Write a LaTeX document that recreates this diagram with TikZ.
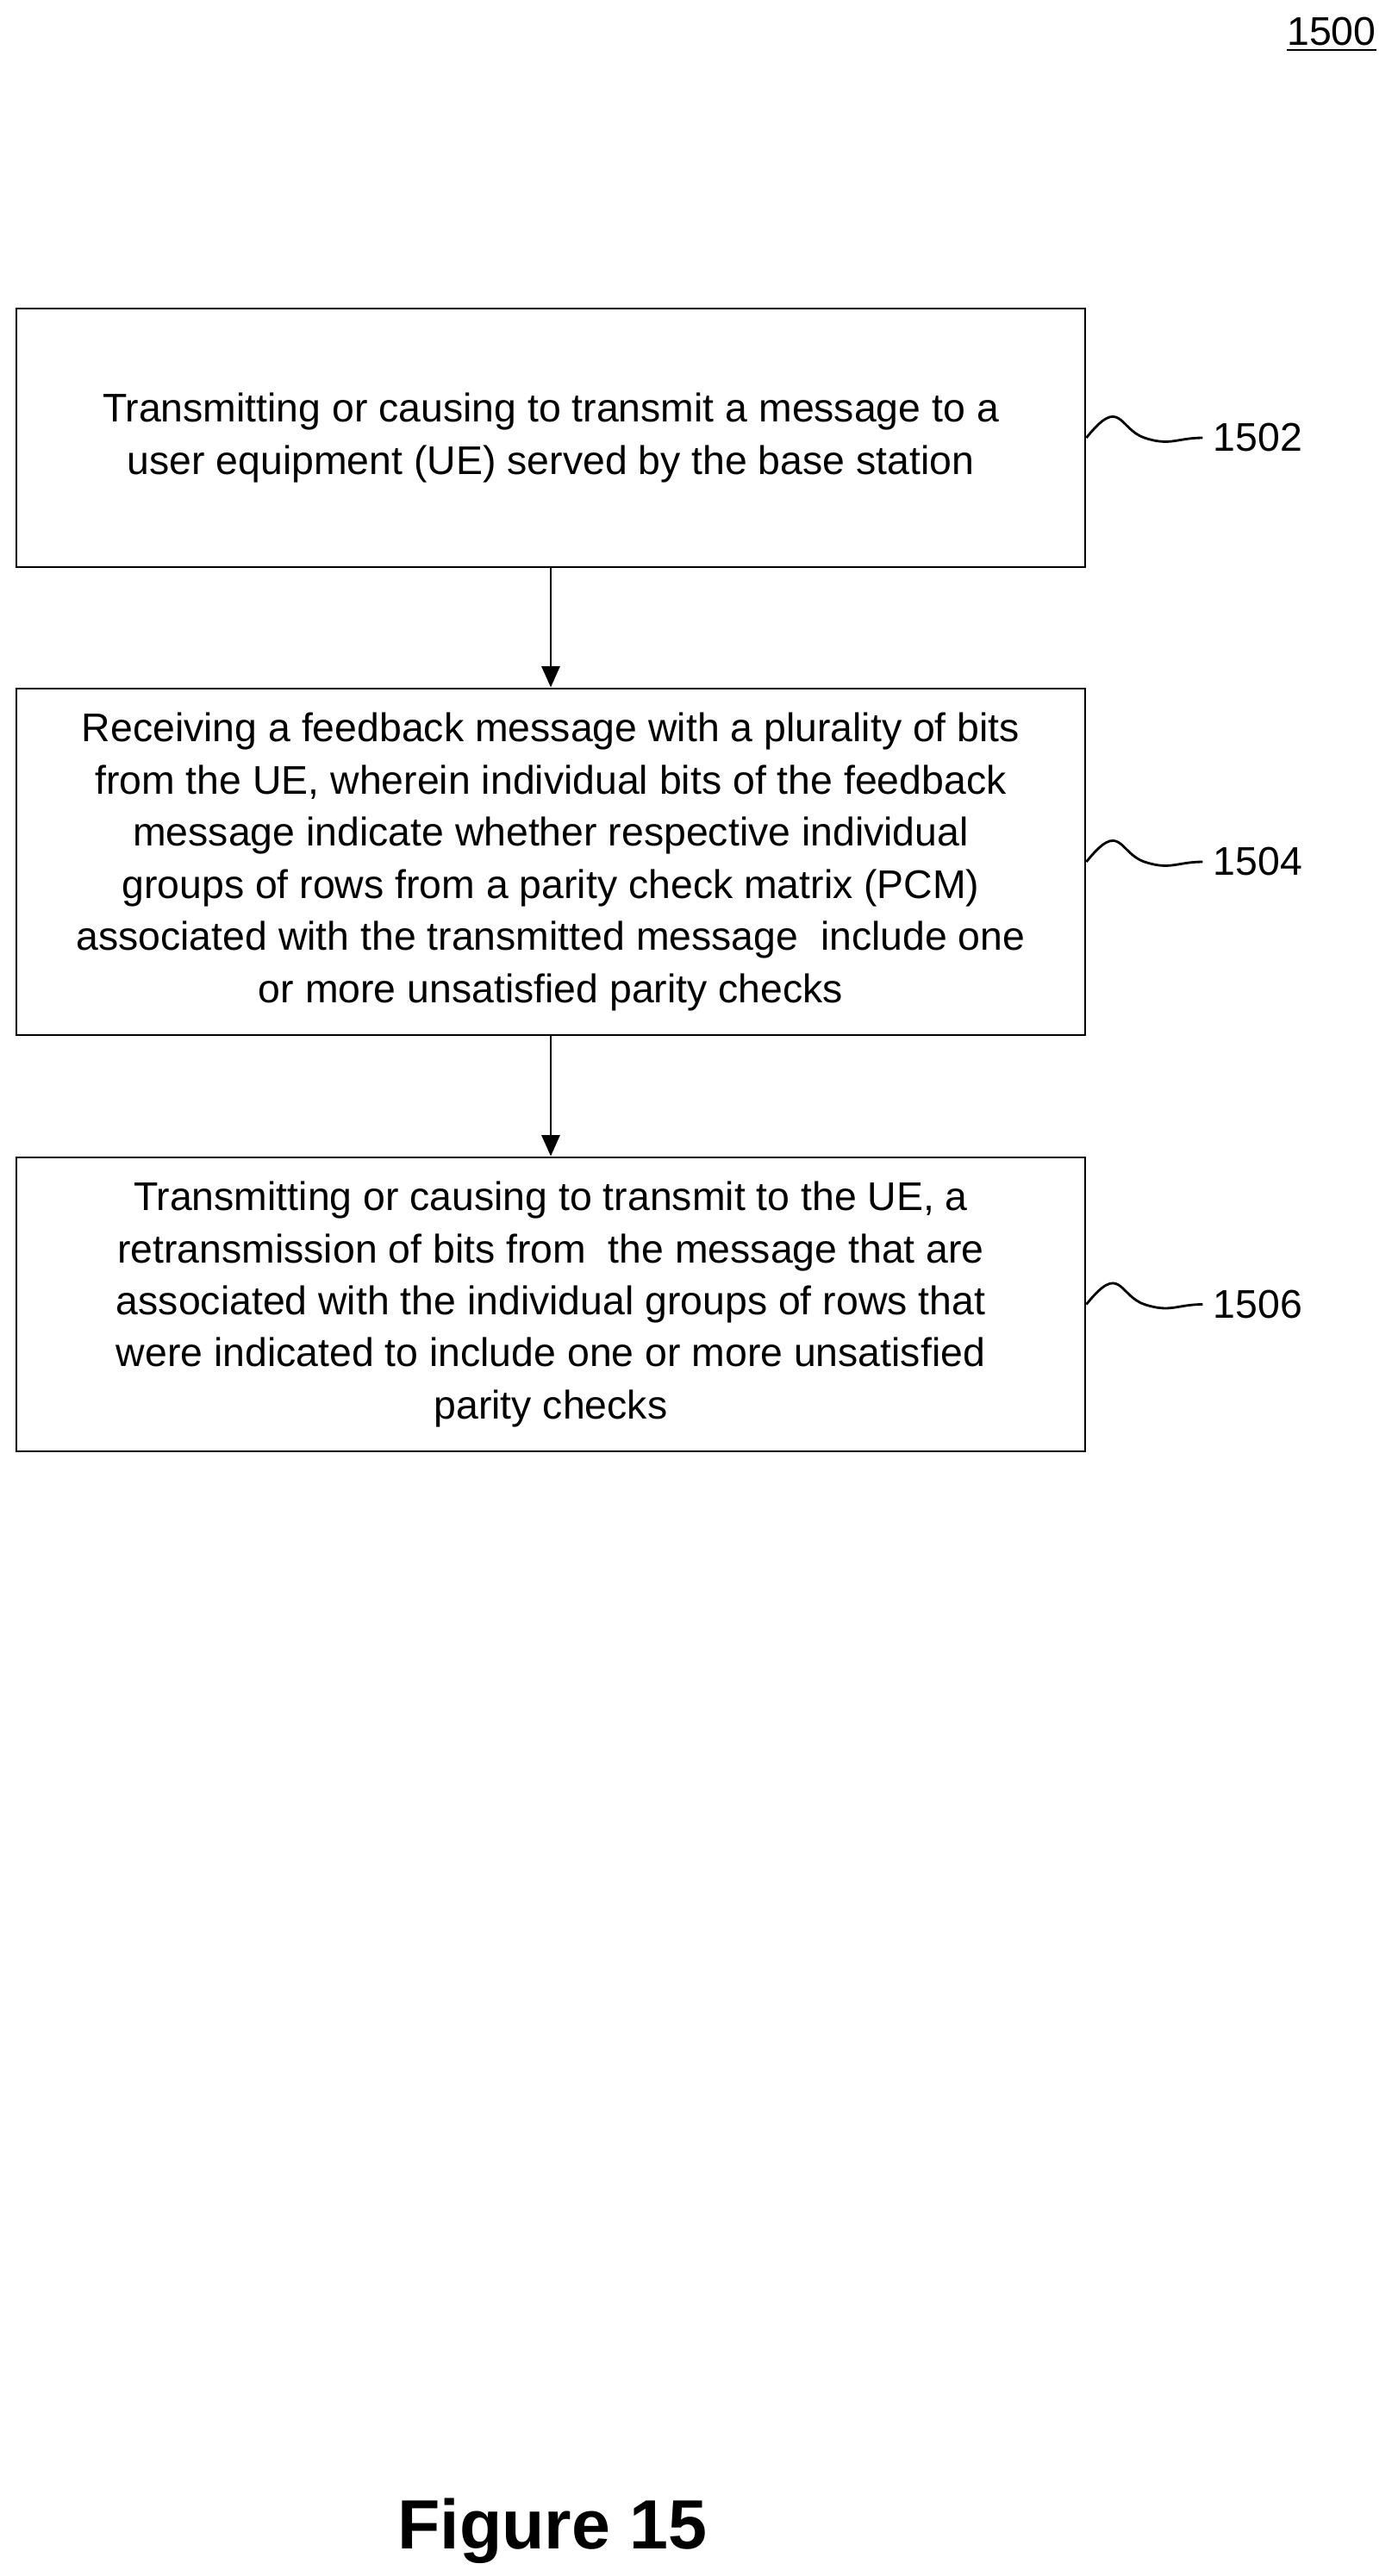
\documentclass[tikz,border=0pt]{standalone}
\usepackage{fontspec}
\setmainfont{Liberation Sans}
\usetikzlibrary{positioning}
\usetikzlibrary{calc}
\usetikzlibrary{arrows.meta}
\tikzset{
  stepbox/.style={draw,thick,minimum width=12.4cm,align=center,inner sep=0pt,font=\fontsize{13.2}{17.2}\selectfont},
  flow/.style={thick,-{Triangle[length=7pt,width=6pt]}},
  ref/.style={font=\fontsize{13.2}{17}\selectfont,anchor=west}
}
\begin{document}
\begin{tikzpicture}
            \useasboundingbox (0,0) rectangle (16.21,-29.89);
            \node[font=\fontsize{13.2}{17}\selectfont] (fig) at (15.45,-0.4) {\underline{1500}};

            \node[stepbox,minimum height=3.0cm] (s1502) at (6.39,-5.08) {Transmitting or causing to transmit a message to a\\ user equipment (UE) served by the base station};
            \node[stepbox,minimum height=4.02cm] (s1504) at (6.39,-10.0) {Receiving a feedback message with a plurality of bits\\ from the UE, wherein individual bits of the feedback\\ message indicate whether respective individual\\ groups of rows from a parity check matrix (PCM)\\ associated with the transmitted message\ \ include one\\ or more unsatisfied parity checks};
            \node[stepbox,minimum height=3.41cm] (s1506) at (6.39,-15.135) {Transmitting or causing to transmit to the UE, a\\ retransmission of bits from\ \ the message that are\\ associated with the individual groups of rows that\\ were indicated to include one or more unsatisfied\\ parity checks};

            \draw[flow] (s1502) -- (s1504);
            \draw[flow] (s1504) -- (s1506);

            % reference numerals
            \foreach \s in {1502,1504,1506} {
              \node[ref] (l\s) at ($(s\s.east)+(1.35,0)$) {\s};
              \draw[thick] (s\s.east) .. controls +(0.4,0.5) and +(-0.3,0.1) .. ($(s\s.east)!0.5!(l\s.west)$)
                                     .. controls +(0.3,-0.1) and +(-0.3,0) .. (l\s.west);
            }

            \node[font=\bfseries\fontsize{23}{28}\selectfont] (cap) at (6.41,-29.37) {Figure 15};
        \end{tikzpicture}
\end{document}
